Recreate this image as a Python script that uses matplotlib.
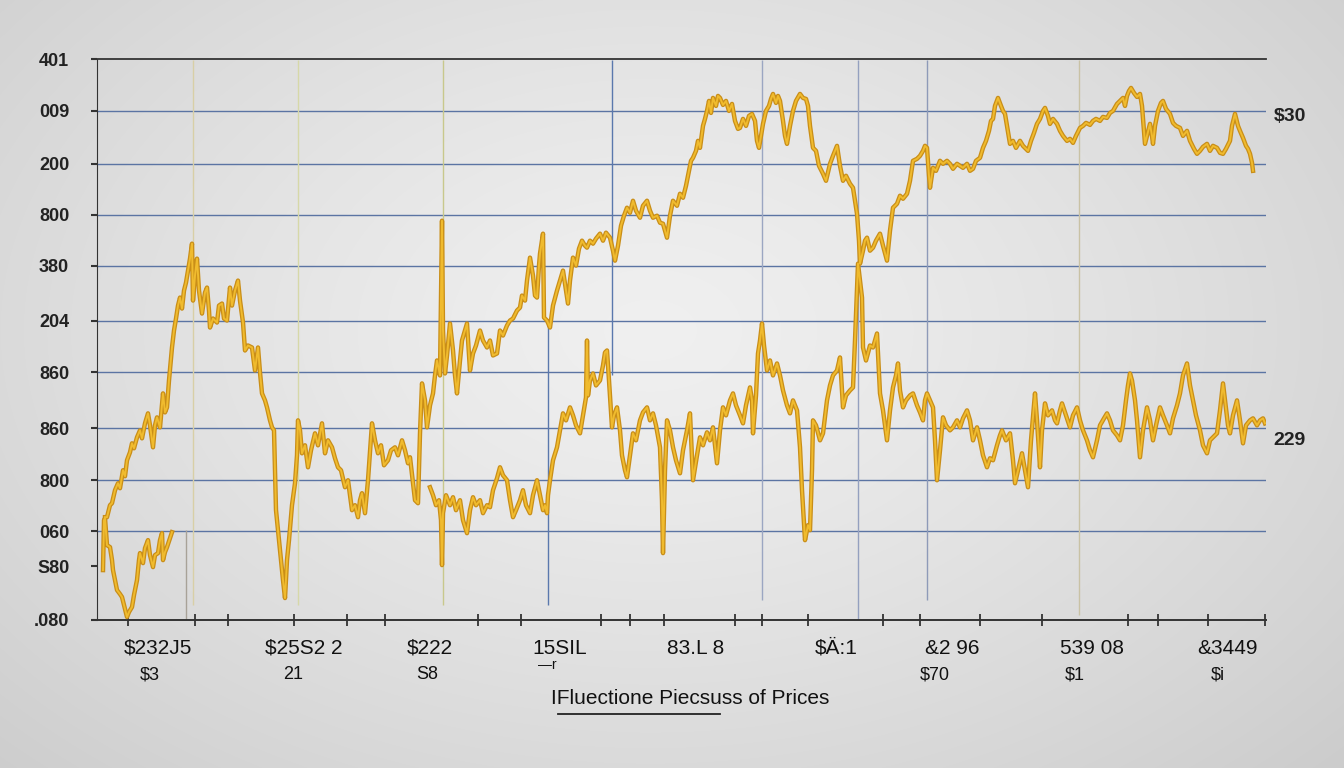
import numpy as np
import matplotlib
matplotlib.use("Agg")
import matplotlib.pyplot as plt

# ---------------- data ----------------
# upper / crossing price trace (day, price units)
upper_day = [8, 10, 13, 15, 18, 21, 23, 26, 28, 30, 33, 35, 37, 40, 43, 45, 48, 51, 53, 56, 58, 60, 63, 66, 68, 70,
             72, 75, 77, 79, 81, 83, 85, 87, 89, 91, 93, 95, 96, 98, 100, 102, 105, 108, 110, 112, 113, 116, 120, 122,
             125, 127, 130, 133, 135, 138, 141, 143, 146, 148, 151, 155, 158, 161, 163, 165, 168, 170, 173, 175, 177,
             179, 182, 184, 186, 188, 190, 192, 195, 198, 200, 201, 203, 205, 208, 211, 214, 218, 221, 225, 228, 231,
             235, 238, 241, 244, 248, 251, 255, 258, 261, 263, 265, 268, 271, 275, 278, 281, 284, 287, 291, 294, 298,
             301, 305, 308, 311, 313, 316, 318, 321, 323, 325, 328, 330, 333, 336, 338, 340, 343, 344, 345, 346, 348,
             350, 353, 356, 358, 360, 363, 365, 368, 370, 373, 376, 379, 383, 386, 390, 393, 396, 400, 403, 406, 410,
             413, 416, 420, 423, 425, 428, 430, 433, 436, 438, 440, 442, 443, 446, 447, 450, 453, 456, 460, 463, 466,
             469, 471, 473, 476, 479, 482, 485, 488, 490, 493, 496, 499, 503, 506, 509, 513, 516, 518, 521, 524, 527,
             530, 533, 536, 539, 543, 546, 550, 553, 556, 560, 563, 566, 568, 570, 573, 576, 580, 583, 586, 589, 592,
             594, 596, 599, 601, 603, 606, 608, 610, 612, 614, 616, 619, 621, 623, 626, 629, 632, 635, 638, 641, 643,
             646, 649, 652, 655, 658, 660, 662, 664, 666, 669, 672, 674, 676, 679, 681, 683, 686, 688, 690, 693, 696,
             699, 703, 706, 709, 711, 713, 716, 719, 722, 726, 729, 733, 736, 740, 743, 746, 749, 753, 756, 758, 760,
             762, 763, 766, 768, 770, 773, 776, 779, 783, 786, 790, 793, 796, 800, 803, 806, 810, 813, 816, 820, 823,
             826, 828, 830, 832, 833, 836, 839, 843, 846, 850, 853, 856, 860, 863, 866, 870, 873, 876, 879, 883, 886,
             889, 892, 894, 896, 898, 901, 904, 906, 908, 910, 913, 916, 919, 923, 926, 929, 931, 934, 937, 940, 943,
             946, 948, 951, 953, 956, 960, 963, 966, 970, 973, 976, 979, 983, 986, 989, 993, 996, 999, 1003, 1006,
             1010, 1013, 1016, 1020, 1023, 1026, 1028, 1030, 1032, 1034, 1037, 1040, 1043, 1045, 1047, 1048, 1050,
             1053, 1055, 1056, 1058, 1061, 1064, 1066, 1069, 1073, 1076, 1079, 1083, 1086, 1090, 1093, 1097, 1100,
             1103, 1106, 1110, 1113, 1116, 1120, 1123, 1126, 1129, 1133, 1135, 1138, 1141, 1143, 1146, 1149, 1151,
             1153, 1155, 1156]
upper_price = [103, 103, 115, 117, 130, 137, 132, 150, 144, 160, 168, 177, 172, 183, 190, 182, 197, 207, 195, 173, 195,
               203, 193, 227, 208, 213, 240, 273, 290, 302, 315, 323, 312, 330, 338, 350, 362, 377, 320, 345, 362, 330,
               307, 328, 333, 310, 293, 302, 298, 315, 317, 302, 300, 333, 315, 330, 340, 320, 298, 270, 275, 273, 250,
               273, 248, 227, 220, 213, 200, 193, 190, 110, 80, 60, 40, 22, 60, 80, 115, 137, 165, 200, 190, 167, 175,
               153, 170, 187, 175, 197, 167, 180, 173, 162, 153, 150, 133, 140, 110, 115, 103, 120, 127, 107, 140, 197,
               180, 167, 175, 155, 160, 170, 173, 165, 180, 170, 157, 163, 137, 120, 117, 187, 237, 220, 193, 215, 227,
               245, 260, 245, 320, 400, 290, 247, 265, 297, 270, 245, 227, 260, 280, 290, 297, 250, 267, 275, 290, 280,
               273, 280, 265, 267, 290, 285, 295, 300, 302, 310, 313, 325, 320, 340, 363, 345, 325, 323, 355, 367, 387,
               303, 300, 293, 315, 330, 340, 350, 330, 317, 340, 363, 355, 372, 380, 375, 373, 380, 377, 382, 387, 380,
               388, 383, 370, 360, 375, 395, 405, 413, 408, 420, 410, 403, 415, 420, 410, 403, 405, 398, 397, 390, 383,
               405, 420, 415, 427, 423, 435, 450, 460, 463, 470, 480, 473, 495, 502, 510, 520, 508, 523, 515, 525, 523,
               516, 520, 510, 517, 500, 492, 493, 502, 495, 505, 507, 500, 480, 473, 485, 497, 510, 515, 522, 527, 518,
               525, 520, 500, 485, 477, 495, 510, 520, 527, 523, 522, 515, 495, 473, 470, 455, 447, 440, 457, 465, 475,
               455, 440, 445, 437, 433, 420, 407, 380, 357, 370, 380, 383, 370, 373, 380, 387, 375, 360, 390, 413, 417,
               425, 422, 427, 440, 460, 462, 465, 470, 475, 473, 445, 433, 453, 450, 460, 457, 460, 457, 452, 457, 455,
               453, 457, 450, 452, 460, 463, 473, 480, 490, 500, 502, 515, 523, 515, 510, 507, 495, 477, 480, 473, 480,
               475, 472, 470, 480, 488, 497, 502, 510, 513, 505, 497, 502, 497, 490, 485, 480, 482, 478, 485, 493, 495,
               498, 496, 500, 502, 500, 504, 503, 508, 510, 517, 520, 523, 515, 525, 530, 533, 528, 524, 527, 515, 490,
               477, 485, 497, 485, 477, 495, 510, 518, 520, 512, 507, 498, 495, 493, 485, 490, 480, 472, 467, 470, 474,
               477, 470, 475, 473, 468, 467, 472, 480, 495, 507, 495, 490, 483, 475, 472, 467, 458, 450]

# short early dip trace
left_day = [6, 7, 8, 10, 13, 15, 16, 18, 20, 23, 25, 27, 30, 32, 35, 37, 40, 42, 43, 46, 48, 51, 53, 56, 58, 61, 63,
            65, 66, 68, 70, 73, 75]
left_price = [50, 100, 102, 75, 73, 60, 50, 40, 30, 26, 23, 15, 3, 8, 13, 25, 40, 60, 67, 57, 72, 80, 65, 53, 65, 67,
              80, 87, 60, 68, 73, 82, 88]

# lower trace (middle and right)
lower_day = [333, 336, 339, 342, 344, 345, 346, 349, 353, 356, 359, 363, 366, 370, 373, 376, 379, 383, 386, 390, 393,
             396, 400, 403, 406, 410, 413, 416, 419, 423, 426, 429, 433, 436, 440, 443, 446, 448, 450, 451, 453, 456,
             460, 463, 466, 469, 473, 476, 479, 483, 486, 489, 490, 491, 493, 496, 499, 503, 506, 508, 510, 512, 515,
             517, 520, 523, 525, 528, 530, 533, 536, 539, 543, 546, 550, 553, 556, 559, 563, 565, 566, 568, 570, 573,
             576, 579, 583, 586, 590, 593, 596, 600, 603, 606, 610, 613, 616, 618, 620, 623, 626, 629, 633, 636, 639,
             643, 646, 649, 653, 655, 656, 659, 661, 663, 665, 667, 670, 673, 676, 680, 683, 686, 690, 693, 696, 700,
             703, 705, 708, 711, 713, 715, 716, 719, 723, 726, 730, 733, 736, 740, 743, 746, 749, 753, 756, 758, 761,
             765, 766, 769, 773, 776, 780, 783, 786, 790, 793, 796, 799, 801, 803, 806, 809, 813, 816, 820, 823, 826,
             828, 830, 833, 836, 838, 840, 843, 846, 849, 853, 856, 860, 863, 866, 870, 873, 876, 880, 883, 886, 890,
             893, 896, 900, 903, 905, 909, 913, 916, 918, 921, 925, 928, 931, 934, 938, 940, 943, 945, 948, 951, 955,
             958, 960, 963, 965, 969, 973, 976, 980, 983, 986, 990, 993, 996, 1000, 1003, 1007, 1010, 1013, 1016,
             1020, 1023, 1026, 1029, 1031, 1033, 1035, 1038, 1040, 1043, 1046, 1050, 1053, 1056, 1059, 1063, 1066,
             1070, 1073, 1076, 1080, 1083, 1086, 1090, 1093, 1096, 1099, 1103, 1106, 1110, 1113, 1116, 1120, 1123,
             1126, 1128, 1131, 1133, 1136, 1140, 1143, 1146, 1149, 1153, 1156, 1160, 1163, 1166, 1168]
lower_price = [133, 125, 115, 120, 100, 55, 107, 125, 115, 123, 110, 120, 100, 87, 110, 123, 115, 120, 107, 115, 113,
               130, 142, 153, 145, 140, 120, 103, 110, 120, 130, 115, 107, 125, 140, 125, 110, 115, 107, 125, 140, 160,
               173, 190, 207, 200, 213, 205, 195, 187, 205, 223, 280, 225, 240, 247, 235, 240, 255, 268, 270, 240, 193,
               205, 213, 190, 165, 150, 143, 165, 187, 180, 200, 208, 213, 200, 207, 195, 173, 120, 67, 150, 200, 190,
               173, 160, 147, 170, 190, 207, 140, 165, 183, 175, 188, 180, 193, 175, 157, 190, 213, 205, 220, 227, 215,
               205, 197, 215, 233, 220, 187, 225, 267, 280, 297, 275, 250, 260, 245, 257, 245, 230, 215, 207, 220, 210,
               173, 130, 80, 95, 90, 150, 200, 195, 180, 187, 220, 235, 245, 250, 263, 213, 225, 230, 233, 280, 357,
               323, 273, 260, 275, 273, 287, 227, 210, 180, 210, 233, 245, 257, 230, 213, 220, 225, 227, 215, 208, 200,
               220, 227, 220, 213, 180, 140, 170, 203, 195, 190, 193, 200, 193, 202, 210, 200, 180, 193, 180, 165, 153,
               162, 160, 175, 185, 190, 180, 187, 160, 137, 150, 167, 150, 133, 180, 227, 200, 153, 190, 217, 205, 210,
               200, 197, 210, 217, 205, 193, 205, 213, 200, 190, 180, 170, 163, 180, 195, 202, 207, 200, 190, 185, 180,
               195, 220, 235, 247, 240, 220, 200, 163, 190, 213, 200, 180, 195, 213, 205, 195, 187, 202, 215, 227, 245,
               257, 235, 220, 205, 190, 175, 167, 180, 183, 187, 210, 237, 220, 195, 187, 205, 220, 200, 177, 195, 200,
               202, 195, 200, 202, 197]

# reference (vertical) lines: day, y-from, y-to
ref_day = [89, 96, 201, 346, 451, 515, 665, 761, 830, 982]
ref_lo = [0, 15, 15, 15, 15, 245, 20, 0, 20, 5]
ref_hi = [90, 561, 561, 561, 300, 561, 561, 561, 561, 561]
ref_col = ['#a8a298', '#d8cfa6', '#d6d8a8', '#c8c88c', '#5a78ad', '#5a78ad', '#9ba6c2', '#94a0bf', '#8e9ab8', '#c9c2a5']

# axis labels
y_ticks = [562, 510, 457, 406, 355, 300, 248, 192, 140, 89, 54, 0]
y_labels = ['401', '009', '200', '800', '380', '204', '860', '860', '800', '060', 'S80', '.080']
grid_y = [510, 457, 406, 355, 300, 248, 192, 140, 89]

x_minor = [31, 98, 131, 197, 250, 288, 381, 424, 504, 533, 567, 638, 665, 711, 786, 823, 883, 945, 1031, 1061,
           1111, 1168]
x_lab1_pos = [61, 207, 333, 463, 599, 739, 855, 995, 1130]
x_lab1 = ['$232J5', '$25S2 2', '$222', '15SIL', '83.L 8', '$Ä:1', '&2 96', '539 08', '&3449']
x_lab2_pos = [53, 196, 330, 838, 978, 1121]
x_lab2 = ['$3', '21', 'S8', '$70', '$1', '$i']

right_labels = ['$30', '229']
right_pos = [504, 180]

title = 'IFluectione Piecsuss of Prices'

# ---------------- figure ----------------
W, H = 1344, 768
fig = plt.figure(figsize=(W / 100, H / 100), dpi=100)
plt.rcParams['font.family'] = ['Liberation Sans', 'DejaVu Sans']

# radial gradient background
bg = fig.add_axes([0, 0, 1, 1], zorder=-10)
gy, gx = np.mgrid[0:H, 0:W]
r = np.sqrt(((gx - 650) / 900.0) ** 2 + ((gy - 330) / 600.0) ** 2)
shade = np.clip(0.94 - 0.13 * r ** 1.3, 0, 1)
bg.imshow(np.dstack([shade, shade, shade]), aspect='auto', extent=[0, 1, 0, 1])
bg.axis('off')

ax = fig.add_axes([97 / W, 1 - 620 / H, 1169 / W, 561 / H])
ax.set_facecolor('none')
ax.set_xlim(0, 1169)
ax.set_ylim(0, 561)

for gyv in grid_y:
    ax.axhline(gyv, color='#5b74a3', lw=1.0, zorder=1)

ax.vlines(ref_day, ref_lo, ref_hi, colors=ref_col, lw=1.0, zorder=1)

for xs, ys in [(upper_day, upper_price), (left_day, left_price), (lower_day, lower_price)]:
    ax.plot(xs, ys, color='#c98e18', lw=3.2, zorder=3)
    ax.plot(xs, ys, color='#f0bb2e', lw=1.4, zorder=4)

ax.spines['right'].set_visible(False)
for s in ['top', 'left', 'bottom']:
    ax.spines[s].set_color('#333333')
ax.spines['bottom'].set_linewidth(1.4)
ax.spines['top'].set_linewidth(1.3)

ax.set_yticks(y_ticks)
ax.set_yticklabels(y_labels, fontsize=13, fontweight='bold', color='#222222')
ax.tick_params(axis='y', length=4, width=1.5, pad=16, color='#333333')

ax.set_xticks(x_minor)
ax.set_xticklabels([])
ax.tick_params(axis='x', direction='inout', length=9, width=1.3, color='#333333')

tr = ax.get_xaxis_transform()
for p, t in zip(x_lab1_pos, x_lab1):
    ax.text(p, -0.05, t, transform=tr, ha='center', va='center', fontsize=15, color='#111111')
for p, t in zip(x_lab2_pos, x_lab2):
    ax.text(p, -0.098, t, transform=tr, ha='center', va='center', fontsize=13, color='#111111')
ax.text(450, -0.081, '—r', transform=tr, ha='center', va='center', fontsize=10, color='#111111')

ytr = ax.get_yaxis_transform()
for v, t in zip(right_pos, right_labels):
    ax.text(1.0205, v, t, transform=ytr, ha='center', va='center', fontsize=14, fontweight='bold', color='#222222')

fig.text(690 / W, 1 - 698 / H, title, ha='center', va='center', fontsize=15, color='#111111')
fig.add_artist(plt.Line2D([558 / W, 720 / W], [1 - 714 / H, 1 - 714 / H], color='#222222', lw=1.3))

fig.savefig('out.png', dpi=100)
